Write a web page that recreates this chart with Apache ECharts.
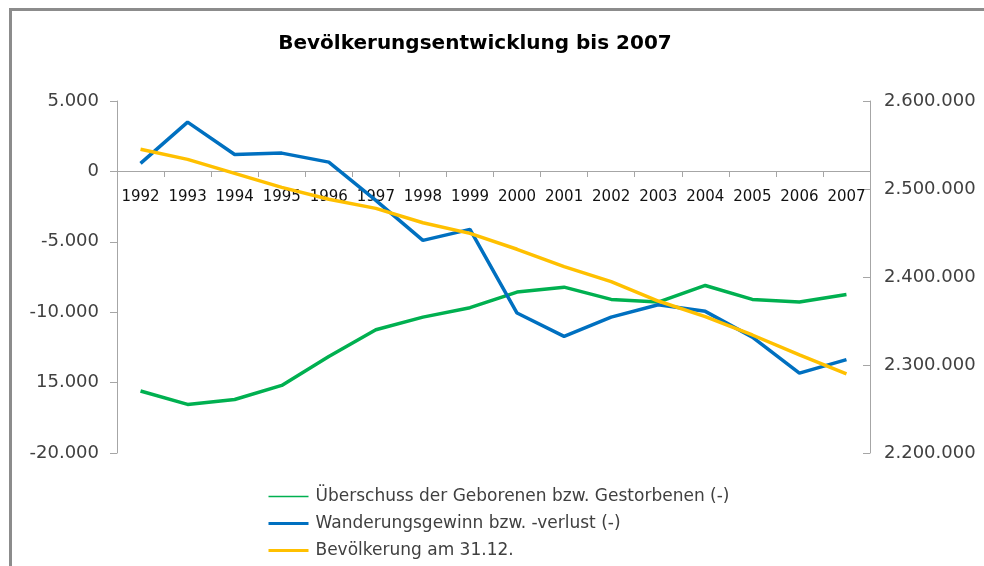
<!DOCTYPE html>
<html>
<head>
<meta charset="utf-8">
<script src="https://cdn.jsdelivr.net/npm/echarts@6/dist/echarts.min.js"></script>
<style>
  html, body { margin: 0; padding: 0; background: #fff; }
  #frame { position: absolute; left: 9px; top: 8px; right: 0; bottom: 0; border-left: 3px solid #8c8c8c; border-top: 3px solid #8c8c8c; }
  #chart { position: absolute; left: 0; top: 0; width: 984px; height: 566px; }
</style>
</head>
<body>
<div id="frame"></div>
<div id="chart"></div>
<script>
// Jahre
var years = ['1992', '1993', '1994', '1995', '1996', '1997', '1998', '1999',
    '2000', '2001', '2002', '2003', '2004', '2005', '2006', '2007']
// Überschuss der Geborenen bzw. Gestorbenen (-)
var ueberschuss = [-15600, -16550, -16200, -15200, -13150, -11250, -10350, -9680,
    -8570, -8220, -9090, -9280, -8100, -9090, -9280, -8740]
// Wanderungsgewinn bzw. -verlust (-)
var wanderung = [570, 3500, 1200, 1300, 660, -2060, -4900, -4120,
    -10060, -11720, -10350, -9470, -9940, -11770, -14330, -13370]
// Bevölkerung am 31.12.
var bevoelkerung = [2545100, 2533700, 2517800, 2501900, 2488300, 2478000, 2461700, 2449600,
    2431500, 2411700, 2394700, 2372700, 2354900, 2334100, 2311400, 2289800]

var seriesNames = ['Überschuss der Geborenen bzw. Gestorbenen (-)', 'Wanderungsgewinn bzw. -verlust (-)', 'Bevölkerung am 31.12.']

function fmt (v) {
    // Tausenderpunkte
    var s = String(Math.abs(v)).replace(/\B(?=(\d{3})+(?!\d))/g, '.')
    return v < 0 ? '-' + s : s
}

var chart = echarts.init(document.getElementById('chart'))
var font = 'DejaVu Sans'
var axisGray = '#a6a6a6'

var option = {
    animation: false,
    textStyle: { fontFamily: font },
    title: {
        text: 'Bevölkerungsentwicklung bis 2007',
        left: 470,
        textAlign: 'center',
        top: 29,
        textStyle: { fontFamily: font, fontSize: 20, fontWeight: 'bold', color: '#000' }
    },
    legend: {
        orient: 'vertical',
        left: 262,
        top: 483,
        height: 83,
        itemWidth: 40,
        itemHeight: 14,
        itemGap: 10,
        itemStyle: { opacity: 0 },
        textStyle: { fontFamily: font, fontSize: 17, color: '#404040', padding: [0, 0, 0, 2] },
        data: [
            { name: seriesNames[0], lineStyle: { width: 1.5, color: '#00b050' } },
            { name: seriesNames[1], lineStyle: { width: 3, color: '#0070c0' } },
            { name: seriesNames[2], lineStyle: { width: 3, color: '#ffc000' } }
        ]
    },
    grid: { left: 117, right: 114, top: 101, bottom: 113 },
    xAxis: {
        type: 'category',
        data: years,
        boundaryGap: true,
        position: 'bottom',
        offset: -282, // Achse liegt auf der Nulllinie der linken Achse
        axisLine: { onZero: false, lineStyle: { color: axisGray, width: 1 } },
        axisTick: { show: true, length: 6, lineStyle: { color: axisGray } },
        axisLabel: { interval: 0, fontSize: 15, color: '#111', margin: 19 },
        splitLine: { show: false }
    },
    yAxis: [{
        type: 'value',
        min: -20000,
        max: 5000,
        interval: 5000,
        axisLine: { show: true, lineStyle: { color: axisGray } },
        axisTick: { show: true, length: 7, lineStyle: { color: axisGray } },
        axisLabel: {
            fontSize: 18,
            color: '#404040',
            margin: 18,
            formatter: function (v) { return v === -15000 ? '15.000' : fmt(v) }
        },
        splitLine: { show: false }
    }, {
        type: 'value',
        min: 2200000,
        max: 2600000,
        interval: 100000,
        position: 'right',
        axisLine: { show: true, lineStyle: { color: axisGray } },
        axisTick: { show: true, inside: true, length: 7, lineStyle: { color: axisGray } },
        axisLabel: { fontSize: 18, color: '#404040', margin: 14, formatter: fmt },
        splitLine: { show: false }
    }],
    series: [{
        name: seriesNames[0],
        type: 'line',
        yAxisIndex: 0,
        data: ueberschuss,
        symbol: 'none',
        lineStyle: { width: 3.5, color: '#00b050' },
        itemStyle: { color: '#00b050' }
    }, {
        name: seriesNames[1],
        type: 'line',
        yAxisIndex: 0,
        data: wanderung,
        symbol: 'none',
        lineStyle: { width: 3.5, color: '#0070c0' },
        itemStyle: { color: '#0070c0' }
    }, {
        name: seriesNames[2],
        type: 'line',
        yAxisIndex: 1,
        data: bevoelkerung,
        symbol: 'none',
        lineStyle: { width: 3.5, color: '#ffc000' },
        itemStyle: { color: '#ffc000' }
    }]
}
chart.setOption(option)
</script>
</body>
</html>
